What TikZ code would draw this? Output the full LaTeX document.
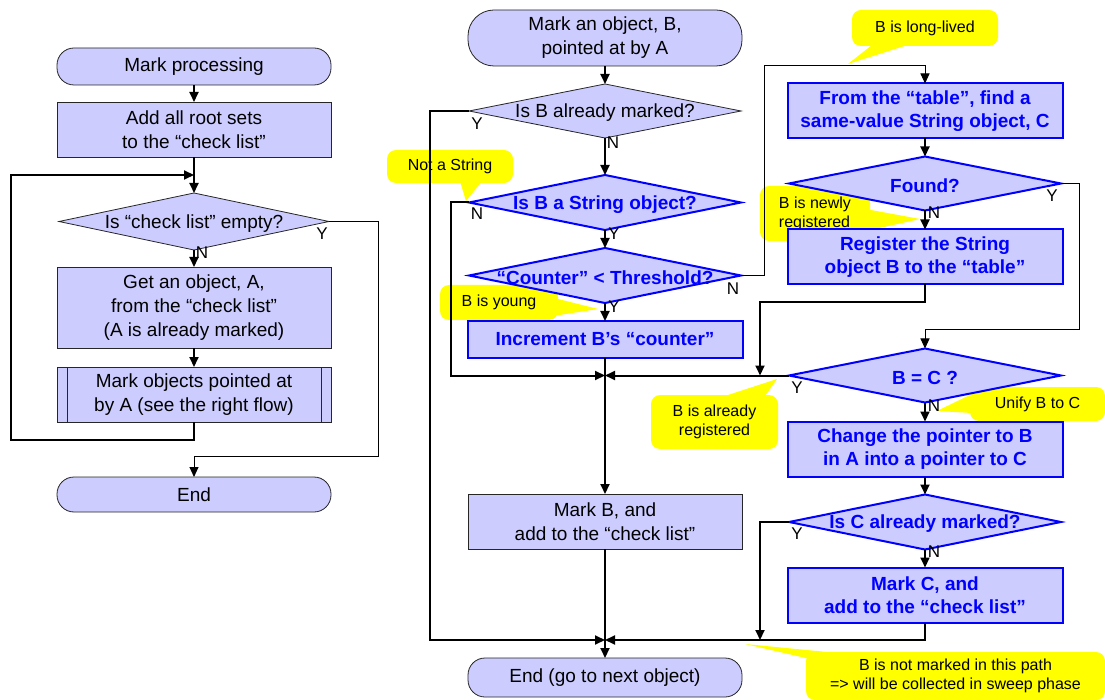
\documentclass[tikz,border=0pt]{standalone}
\usepackage{fontspec}
\setmainfont{Liberation Sans}
\usetikzlibrary{positioning,arrows.meta,shapes.geometric}
\definecolor{FlowLavender}{RGB}{204,204,255}
\definecolor{FlowBlue}{RGB}{0,0,255}
\definecolor{NoteYellow}{RGB}{255,255,0}

\begin{document}
\begin{tikzpicture}[x=1pt,y=-1pt,
node distance=18pt,
box/.style={rectangle,draw=black!85,line width=0.8pt,fill=FlowLavender,minimum width=274pt,minimum height=55pt,
inner sep=0pt,outer sep=0pt,align=center,font=\fontsize{19}{24}\selectfont},
term/.style={box,rounded corners=17pt},
bbox/.style={box,draw=FlowBlue,line width=2pt,text=FlowBlue,minimum width=275pt,font=\fontsize{19}{23}\bfseries\selectfont},
dec/.style={diamond,draw=black!85,line width=0.8pt,fill=FlowLavender,minimum width=272pt,minimum height=55pt,
inner sep=0pt,outer sep=0pt},
bdec/.style={dec,draw=FlowBlue,line width=2pt},
dtext/.style={inner sep=0pt,yshift=-2pt,font=\fontsize{19}{24}\selectfont},
btext/.style={inner sep=0pt,yshift=-2pt,text=FlowBlue,font=\fontsize{19}{24}\bfseries\selectfont},
yn/.style={inner sep=0pt,font=\fontsize{17}{17}\selectfont},
note/.style={fill=NoteYellow,rounded corners=9pt,inner sep=0pt,align=center,font=\fontsize{16}{19}\selectfont},
arrow/.style={-{Triangle[length=10pt,width=9pt]},line width=2pt},
thinarrow/.style={-{Triangle[length=10pt,width=9pt]},line width=1pt}
]
\fill[white] (0,0) rectangle (1105,700);
\useasboundingbox (0,0) rectangle (1105,700);

\node[note,minimum width=126pt,minimum height=33pt] (nstr) at (450,166.5) {Not a String};
\fill[NoteYellow] ([xshift=10pt,yshift=2pt]nstr.south) -- (466,201) -- ([xshift=32pt,yshift=2pt]nstr.south) -- cycle;
\node[note,minimum width=118pt,minimum height=35pt] (young) at (499,302.5) {B is young};
\fill[NoteYellow] ([xshift=-2pt,yshift=4pt]young.east) -- (598,309) -- ([xshift=-2pt,yshift=-13pt]young.east) -- cycle;
\node[note,minimum width=146pt,minimum height=36pt] (longl) at (925,28) {B is long-lived};
\fill[NoteYellow] ([xshift=-52pt,yshift=2pt]longl.south) -- (848,64) -- ([xshift=-15pt,yshift=2pt]longl.south) -- cycle;
\node[note,minimum width=110pt,minimum height=55pt,align=left] (newr) at (815,213.5) {B is newly\\registered};
\fill[NoteYellow] ([xshift=-2pt,yshift=4pt]newr.east) -- (920,219) -- ([xshift=-2pt,yshift=-17pt]newr.east) -- cycle;
\node[note,minimum width=127pt,minimum height=54pt] (alrd) at (714.5,422) {B is already\\registered};
\fill[NoteYellow] ([xshift=8pt,yshift=-2pt]alrd.north) -- (777,379) -- ([xshift=50pt,yshift=-2pt]alrd.north) -- cycle;
\node[note,minimum width=135pt,minimum height=34pt] (unify) at (1037.5,404) {Unify B to C};
\fill[NoteYellow] ([xshift=2pt,yshift=10pt]unify.west) -- (937,411) -- ([xshift=2pt,yshift=-9pt]unify.west) -- cycle;
\node[note,minimum width=299pt,minimum height=48pt] (notm) at (955.5,676) {B is not marked in this path\\=> will be collected in sweep phase};
\fill[NoteYellow] ([xshift=-142pt,yshift=-8pt]notm.north) -- (745,644) -- ([xshift=-110pt,yshift=-2pt]notm.north) -- cycle;

\node[term,minimum height=37pt] (startL) at (194,66.5) {Mark processing};
\node[box,below=17pt of startL] (roots) {Add all root sets\\to the “check list”};
\node[dec,below=36pt of roots,minimum width=270pt,minimum height=57pt,label={[dtext]center:{Is “check list” empty?}}] (empty) {};
\node[box,below=17pt of empty,minimum height=81pt] (getA) {Get an object, A,\\from the “check list”\\(A is already marked)};
\node[box,below=19pt of getA] (markpp) {Mark objects pointed at\\by A (see the right flow)};
\draw[black!85,line width=0.8pt] ([xshift=10pt]markpp.north west) -- ([xshift=10pt]markpp.south west)
([xshift=-10pt]markpp.north east) -- ([xshift=-10pt]markpp.south east);
\node[term,below=55pt of markpp,minimum height=35pt] (endL) {End};

\node[term,minimum height=56pt,rounded corners=26pt] (startM) at (605,38) {Mark an object, B,\\pointed at by A};
\node[dec,below=of startM,minimum height=54pt,label={[dtext]center:{Is B already marked?}}] (bmarked) {};
\node[bdec,below=37pt of bmarked,label={[btext]center:{Is B a String object?}}] (isstr) {};
\node[bdec,below=of isstr,label={[btext]center:{“Counter” < Threshold?}}] (counter) {};
\node[bbox,below=of counter,minimum height=37pt] (incr) {Increment B’s “counter”};
\node[box,below=136pt of incr] (markB) {Mark B, and\\add to the “check list”};
\node[term,below=109pt of markB,minimum height=39pt] (endM) {End (go to next object)};

\node[bbox] (findC) at (925,111) {From the “table”, find a\\same-value String object, C};
\node[bdec,below=of findC,minimum height=54pt,label={[btext]center:{Found?}}] (found) {};
\node[bbox,below=19pt of found] (regist) {Register the String\\object B to the “table”};
\node[bdec,below=64pt of regist,minimum height=54pt,label={[btext]center:{B = C ?}}] (beqc) {};
\node[bbox,below=19pt of beqc] (change) {Change the pointer to B\\in A into a pointer to C};
\node[bdec,below=of change,label={[btext]center:{Is C already marked?}}] (cmarked) {};
\node[bbox,below=of cmarked] (markC) {Mark C, and\\add to the “check list”};

\coordinate (loopin) at (194,175);
\coordinate (mergeA) at (605,375.5);
\coordinate (mergeB) at (605,640);
\coordinate (mergeC) at (760,375.5);
\coordinate (mergeD) at (760,640);

\draw[arrow] (startL.south) -- (roots.north);
\draw[arrow] (roots.south) -- (empty.north);
\draw[arrow] (empty.south) -- (getA.north);
\draw[arrow] (getA.south) -- (markpp.north);
\draw[arrow] (markpp.south) -- ++(0,18) -- ++(-183,0) |- (loopin);
\draw[thinarrow] (empty.east) -- ++(49,0) -- ++(0,235) -| (endL.north);

\draw[arrow] (startM.south) -- (bmarked.north);
\draw[arrow] (bmarked.south) -- (isstr.north);
\draw[arrow] (bmarked.west) -- ++(-39,0) |- (mergeB);
\draw[arrow] (isstr.south) -- (counter.north);
\draw[arrow] (isstr.west) -- ++(-18,0) |- (mergeA);
\draw[arrow] (counter.south) -- (incr.north);
\draw[thinarrow] (counter.east) -- ++(23,0) -- ++(0,-210) -| (findC.north);
\draw[arrow] (incr.south) -- (markB.north);
\draw[arrow] (markB.south) -- (endM.north);

\draw[arrow] (findC.south) -- (found.north);
\draw[arrow] (found.south) -- (regist.north);
\draw[thinarrow] (found.east) -- ++(18,0) -- ++(0,146) -| (beqc.north);
\draw[arrow] (regist.south) -- ++(0,18) -| (mergeC);
\draw[arrow] (beqc.west) -- (mergeA);
\draw[arrow] (beqc.south) -- (change.north);
\draw[arrow] (change.south) -- (cmarked.north);
\draw[arrow] (cmarked.west) -| (mergeD);
\draw[arrow] (cmarked.south) -- (markC.north);
\draw[arrow] (markC.south) |- (mergeB);

\node[yn] (yL) at (322,234) {Y};
\node[yn] (nL) at (202,253) {N};
\node[yn] (yBm) at (477,124) {Y};
\node[yn] (nBm) at (613,143) {N};
\node[yn] (nStr) at (477,214) {N};
\node[yn] (yStr) at (614,234) {Y};
\node[yn] (nCnt) at (733,289) {N};
\node[yn] (yCnt) at (614,307) {Y};
\node[yn] (yFnd) at (1052,196) {Y};
\node[yn] (nFnd) at (934,213) {N};
\node[yn] (yEq) at (797,388) {Y};
\node[yn] (nEq) at (934,406) {N};
\node[yn] (yCm) at (797,534) {Y};
\node[yn] (nCm) at (934,552) {N};
\end{tikzpicture}
\end{document}
